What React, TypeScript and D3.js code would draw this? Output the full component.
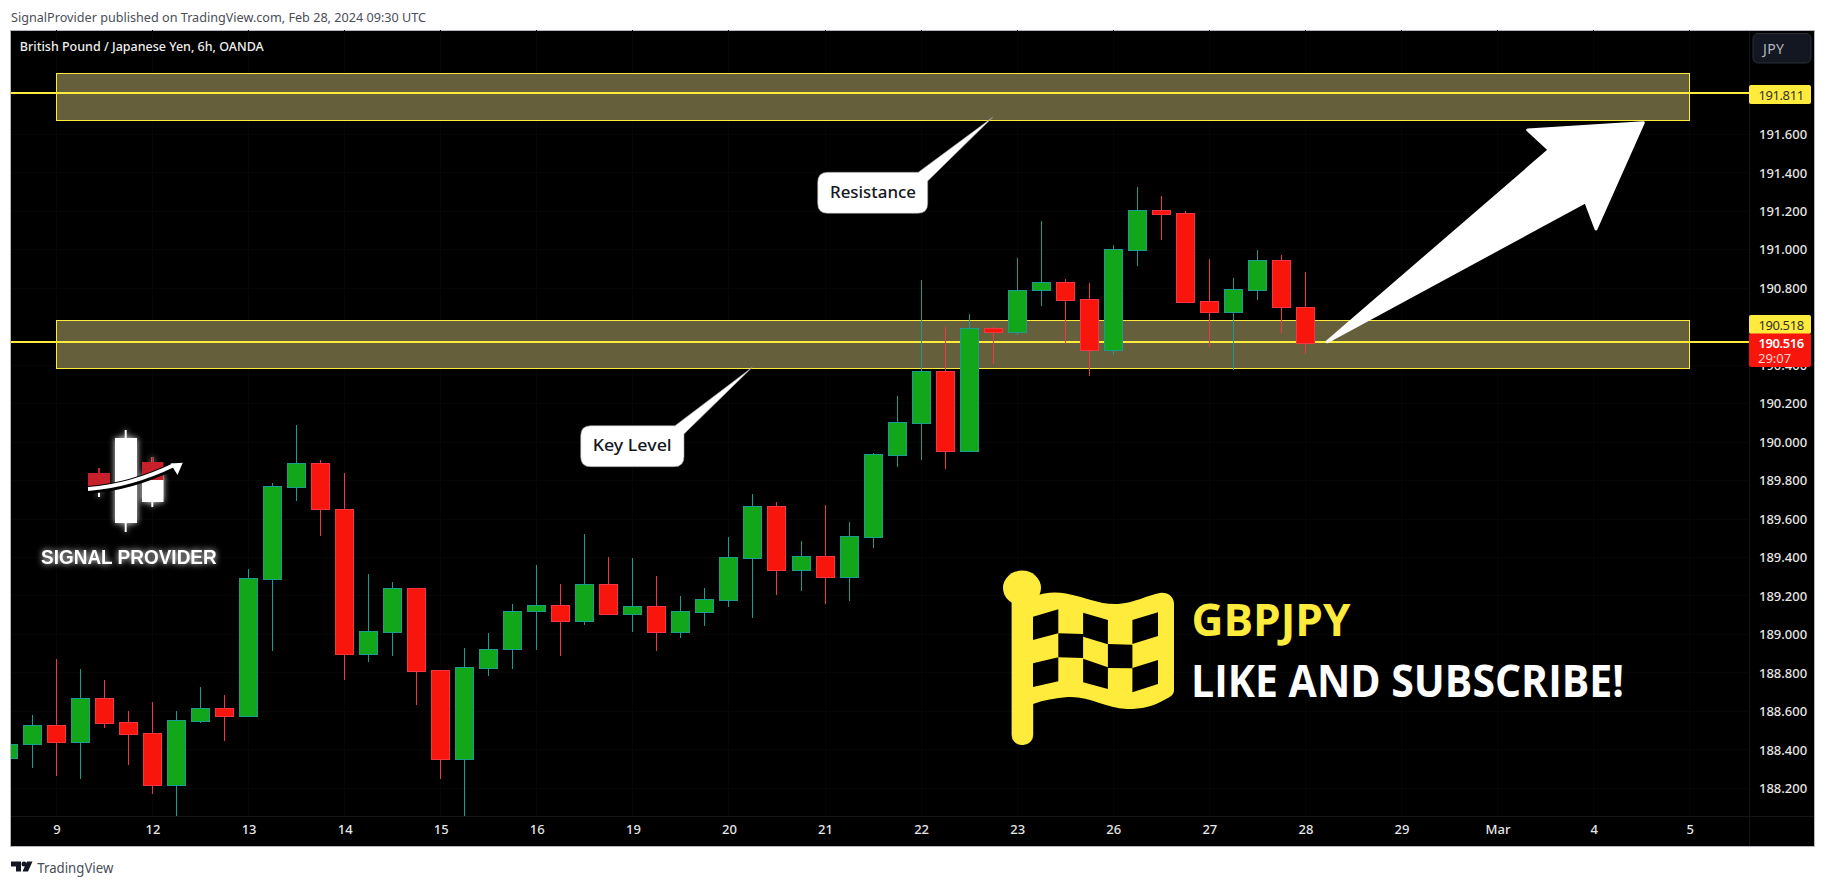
import * as React from "react";
import * as d3 from "d3";

const FONT = "'Noto Sans', 'Open Sans', sans-serif";

// OHLC of the 6h bars
const opens = [188.359, 188.429, 188.527, 188.443, 188.668, 188.543, 188.486, 188.219, 188.552, 188.616, 188.578, 189.29, 189.769, 189.89, 189.651, 188.9, 189.015, 189.24, 188.814, 188.354, 188.827, 188.923, 189.12, 189.152, 189.072, 189.261, 189.108, 189.146, 189.015, 189.119, 189.181, 189.399, 189.666, 189.337, 189.406, 189.301, 189.509, 189.935, 190.102, 190.368, 189.956, 190.592, 190.575, 190.79, 190.831, 190.743, 190.481, 191.001, 191.206, 191.19, 190.732, 190.674, 190.793, 190.946, 190.701];
const highs = [188.45, 188.581, 188.872, 188.82, 188.763, 188.602, 188.649, 188.602, 188.727, 188.685, 189.34, 189.786, 190.089, 189.907, 189.84, 189.315, 189.273, 189.24, 188.814, 188.93, 189.008, 189.159, 189.361, 189.262, 189.522, 189.403, 189.398, 189.304, 189.2, 189.242, 189.507, 189.731, 189.689, 189.486, 189.673, 189.585, 189.944, 190.24, 190.843, 190.599, 190.667, 190.599, 190.958, 191.15, 190.849, 190.828, 191.025, 191.327, 191.28, 191.2, 190.953, 190.854, 190.999, 190.973, 190.885];
const lows = [188.34, 188.306, 188.264, 188.248, 188.514, 188.321, 188.17, 188.056, 188.541, 188.446, 188.573, 188.914, 189.694, 189.512, 188.763, 188.857, 188.888, 188.633, 188.248, 188.056, 188.784, 188.82, 188.919, 188.888, 189.049, 189.108, 189.013, 188.914, 188.982, 189.044, 189.143, 189.086, 189.205, 189.226, 189.159, 189.174, 189.45, 189.871, 189.907, 189.86, 189.95, 190.407, 190.557, 190.708, 190.512, 190.344, 190.453, 190.916, 191.051, 190.724, 190.495, 190.375, 190.739, 190.568, 190.459];
const closes = [188.429, 188.527, 188.443, 188.668, 188.541, 188.484, 188.219, 188.554, 188.616, 188.578, 189.292, 189.77, 189.89, 189.651, 188.9, 189.016, 189.24, 188.812, 188.354, 188.829, 188.923, 189.12, 189.152, 189.072, 189.261, 189.108, 189.146, 189.015, 189.12, 189.183, 189.401, 189.666, 189.337, 189.406, 189.301, 189.51, 189.937, 190.103, 190.368, 189.956, 190.592, 190.575, 190.79, 190.831, 190.741, 190.481, 191.003, 191.206, 191.188, 190.731, 190.674, 190.795, 190.946, 190.7, 190.516];

// 190.600 sits fully under the price badges in the reference, so no label for it
const priceTicks = [188.2, 188.4, 188.6, 188.8, 189, 189.2, 189.4, 189.6, 189.8, 190, 190.2, 190.4, 190.8, 191, 191.2, 191.4, 191.6];
const dayBars = [2, 6, 10, 14, 18, 22, 26, 30, 34, 38, 42, 46, 50, 54, 58, 62, 66, 70];
const dayLabels = ["9", "12", "13", "14", "15", "16", "19", "20", "21", "22", "23", "26", "27", "28", "29", "Mar", "4", "5"];

const zones = [
  { top: 191.918, bottom: 191.674, level: 191.811 },
  { top: 190.634, bottom: 190.382, level: 190.518 },
];
const zoneFrom = 2;
const zoneTo = 70;
const lastPrice = 190.516;

const YELLOW = "#ffeb3b";
const UP_FILL = "#12a71b";
const UP_LINE = "#1a9c8e";
const DOWN_FILL = "#f7150c";
const DOWN_LINE = "#f23645";

const x = d3.scaleLinear().domain([0, 54]).range([8.4, 1305.4]);
const y = d3.scaleLinear().domain([191.6, 188.2]).range([134.4, 788.3]);

const cell = (x0: number, x1: number, t0: number, t1: number, b0: number, b1: number) =>
  `${x0},${t0} ${x1},${t1} ${x1},${b1} ${x0},${b0}`;

const flagCells = [
  cell(1033, 1058.3, 616.7, 609.3, 640, 633.3),
  cell(1083.1, 1107.9, 612.7, 620, 636.7, 644.3),
  cell(1132.4, 1158, 620, 612.3, 644, 636),
  cell(1058.3, 1083.1, 633.3, 634, 657.3, 658),
  cell(1107.9, 1132.4, 644, 644.7, 668, 668.3),
  cell(1033, 1058.3, 663.3, 657.3, 687, 681.3),
  cell(1083.1, 1107.9, 658.7, 667.3, 682.3, 689),
  cell(1132.4, 1158, 668, 660, 692.3, 684),
];

function Candle({ i }: { i: number }) {
  const up = closes[i] >= opens[i];
  const cx = Math.floor(x(i)) + 0.5;
  const top = Math.round(y(Math.max(opens[i], closes[i])));
  const bottom = Math.round(y(Math.min(opens[i], closes[i])));
  return (
    <g shapeRendering="crispEdges">
      <line x1={cx} x2={cx} y1={y(highs[i])} y2={y(lows[i])} stroke={up ? UP_LINE : DOWN_LINE} />
      <rect
        x={cx - 9}
        y={top + 0.5}
        width={18}
        height={Math.max(bottom - top, 2)}
        fill={up ? UP_FILL : DOWN_FILL}
        stroke={up ? UP_LINE : DOWN_LINE}
      />
    </g>
  );
}

function Callout(props: { d: string; label: string; tx: number; ty: number; len: number }) {
  return (
    <g>
      <path d={props.d} fill="#fff" stroke="#9a9a9a" strokeWidth={0.6} />
      <text
        x={props.tx}
        y={props.ty}
        fontFamily={FONT}
        fontSize={16}
        fontWeight={500}
        fill="#131722"
        dominantBaseline="central"
        textLength={props.len}
        lengthAdjust="spacingAndGlyphs"
      >
        {props.label}
      </text>
    </g>
  );
}

function Logo() {
  const glow = { filter: "drop-shadow(0 0 3px rgba(255,255,255,0.9))" };
  return (
    <g>
      <g style={glow}>
        <rect x={115} y={438} width={22} height={85} fill="#fff" />
        <line x1={125.7} x2={125.7} y1={430} y2={532} stroke="#fff" strokeWidth={2} />
        <rect x={142} y={474} width={21.5} height={28} fill="#fff" />
        <line x1={152.3} x2={152.3} y1={457} y2={507} stroke="#fff" strokeWidth={2} />
        <line x1={99} x2={99} y1={484} y2={497} stroke="#fff" strokeWidth={2} />
      </g>
      <line x1={99} x2={99} y1={468} y2={474} stroke="#c8202a" strokeWidth={2} />
      <line x1={152.3} x2={152.3} y1={457} y2={463} stroke="#c8202a" strokeWidth={2} />
      <rect x={142} y={462} width={21.5} height={18} fill="#c8202a" />
      <rect x={88} y={473} width={22} height={13} fill="#c8202a" />
      <path d="M88 490 C115 488 145 480 174 466" fill="none" stroke="#000" strokeWidth={8} />
      <path d="M88 489 C115 487 145 479 174 465" fill="none" stroke="#fff" strokeWidth={4} />
      <polygon points="182.7,462.7 170.5,463.5 177.5,475" fill="#fff" />
      <text
        x={41}
        y={557}
        fontFamily="'Liberation Sans', Arial, sans-serif"
        fontWeight={700}
        fontSize={19.5}
        fill="#fff"
        dominantBaseline="central"
        textLength={175.7}
        lengthAdjust="spacingAndGlyphs"
        style={glow}
      >
        SIGNAL PROVIDER
      </text>
    </g>
  );
}

function Flag() {
  return (
    <g fill={YELLOW}>
      <rect x={1011.6} y={590} width={21.6} height={155} rx={10} />
      <ellipse cx={1022} cy={588} rx={19} ry={17.5} />
      <path d="M1033 596.7 C1045 592 1056 592 1066 593.5 C1085 597 1100 605 1118 604 C1134 603 1148 595 1160 593 C1168 592 1174 597 1174 604 L1174 690 C1174 695 1170 697 1166 699 C1152 707 1142 709 1127 709 C1105 708 1090 696 1068 697 C1055 698 1044 700 1033 704 Z" />
      {flagCells.map(p => (
        <polygon key={p} points={p} fill="#000" />
      ))}
    </g>
  );
}

export default function App() {
  const plotRight = 1749;
  const axisY = 816;
  const bars = d3.range(opens.length);
  return (
    <div style={{ position: "absolute", left: 0, top: 0 }}>
      <svg width={1826} height={886} style={{ display: "block", background: "#fff" }} fontFamily={FONT}>
        <defs>
          <clipPath id="plot">
            <rect x={11} y={30} width={plotRight - 11} height={axisY - 30} />
          </clipPath>
        </defs>

        <text x={11} y={17} fontSize={13} fill="#4a4e58" dominantBaseline="central" textLength={415} lengthAdjust="spacingAndGlyphs">
          SignalProvider published on TradingView.com, Feb 28, 2024 09:30 UTC
        </text>

        <rect x={10.5} y={30.5} width={1804} height={816} fill="#000" stroke="#b2b5be" />

        <g stroke="#060606" shapeRendering="crispEdges">
          {priceTicks.map(p => (
            <line key={p} x1={11} x2={plotRight} y1={y(p)} y2={y(p)} />
          ))}
          {dayBars.map(b => (
            <line key={b} x1={x(b)} x2={x(b)} y1={30} y2={axisY} />
          ))}
        </g>
        <line x1={plotRight} x2={plotRight} y1={31} y2={846} stroke="#141414" shapeRendering="crispEdges" />
        <line x1={11} x2={1814} y1={axisY} y2={axisY} stroke="#141414" shapeRendering="crispEdges" />

        <text x={19.8} y={46} fontSize={13} fontWeight={500} fill="#eeeeee" dominantBaseline="central" textLength={244} lengthAdjust="spacingAndGlyphs">
          British Pound / Japanese Yen, 6h, OANDA
        </text>

        {zones.map(z => (
          <g key={z.level}>
            <rect
              x={x(zoneFrom)}
              y={y(z.top)}
              width={x(zoneTo) - x(zoneFrom)}
              height={y(z.bottom) - y(z.top)}
              fill="#655f3b"
              stroke={YELLOW}
              shapeRendering="crispEdges"
            />
            <line
              x1={11}
              x2={plotRight}
              y1={Math.round(y(z.level) - 0.4)}
              y2={Math.round(y(z.level) - 0.4)}
              stroke={YELLOW}
              strokeWidth={2}
              shapeRendering="crispEdges"
            />
          </g>
        ))}

        <g clipPath="url(#plot)">
          {bars.map(i => (
            <Candle key={i} i={i} />
          ))}
        </g>

        <polygon
          points="1327.3,341.7 1549.3,150 1527.7,130 1643.3,122.7 1596,229 1585.7,201.7"
          fill="#fff"
          stroke="#fff"
          strokeWidth={3}
          strokeLinejoin="round"
        />

        <Callout
          d="M827.7 172.3 L918.3 172.3 L992.7 117.3 L927.7 181 L927.7 203.3 Q927.7 213.3 917.7 213.3 L827.7 213.3 Q817.7 213.3 817.7 203.3 L817.7 182.3 Q817.7 172.3 827.7 172.3 Z"
          label="Resistance"
          tx={830}
          ty={192}
          len={86}
        />
        <Callout
          d="M590.7 425.7 L675 425.7 L752.3 367.3 L684 434 L684 456.7 Q684 466.7 674 466.7 L590.7 466.7 Q580.7 466.7 580.7 456.7 L580.7 435.7 Q580.7 425.7 590.7 425.7 Z"
          label="Key Level"
          tx={592.7}
          ty={445}
          len={79}
        />

        <Logo />
        <Flag />

        <text x={1191.5} y={618.5} fontFamily="'Open Sans', sans-serif" fontWeight={700} fontSize={44} fill={YELLOW} dominantBaseline="central" textLength={159} lengthAdjust="spacingAndGlyphs">
          GBPJPY
        </text>
        <text x={1191} y={680} fontFamily="'Open Sans', sans-serif" fontWeight={700} fontSize={44} fill="#fff" dominantBaseline="central" textLength={433} lengthAdjust="spacingAndGlyphs">
          LIKE AND SUBSCRIBE!
        </text>

        <g
          transform={`translate(${plotRight},0)`}
          ref={node => {
            if (!node) return;
            const g = d3.select(node);
            g.call(d3.axisRight(y).tickValues(priceTicks).tickSize(0).tickPadding(10).tickFormat(d3.format(".3f")) as any);
            g.select(".domain").remove();
            g.attr("font-family", FONT).attr("font-size", 13).attr("font-weight", 500);
            g.selectAll("text").attr("fill", "#e6e6e6");
          }}
        />
        <g
          transform={`translate(0,${axisY})`}
          ref={node => {
            if (!node) return;
            const g = d3.select(node);
            g.call(
              d3
                .axisBottom(x)
                .tickValues(dayBars)
                .tickSize(0)
                .tickPadding(9)
                .tickFormat((_, i) => dayLabels[i]) as any
            );
            g.select(".domain").remove();
            g.attr("font-family", FONT).attr("font-size", 13).attr("font-weight", 500);
            g.selectAll("text").attr("fill", "#e6e6e6");
          }}
        />

        <rect x={1753} y={33.5} width={58} height={29.5} rx={5} fill="#131722" stroke="#2a2e39" />
        <text x={1763} y={48.5} fontSize={14} fill="#b2b5be" dominantBaseline="central" textLength={21}>
          JPY
        </text>

        <rect x={1749} y={85} width={62} height={19} rx={2} fill={YELLOW} />
        <text x={1758.5} y={94.5} fontSize={13} fill="#333" dominantBaseline="central" textLength={45.6}>
          {d3.format(".3f")(zones[0].level)}
        </text>
        <rect x={1749} y={315} width={62} height={19} rx={2} fill={YELLOW} />
        <text x={1758.5} y={325} fontSize={13} fill="#333" dominantBaseline="central" textLength={45.6}>
          {d3.format(".3f")(zones[1].level)}
        </text>
        <rect x={1749} y={333.5} width={62} height={33.5} rx={2} fill={DOWN_FILL} />
        <text x={1758.5} y={343} fontSize={13} fontWeight={600} fill="#fff" dominantBaseline="central" textLength={45.6}>
          {d3.format(".3f")(lastPrice)}
        </text>
        <text x={1758} y={358} fontSize={13} fill="#ffd5d2" dominantBaseline="central">
          29:07
        </text>

        <g fill="#131722">
          <polygon points="11,861.5 21,861.5 21,871.5 16,871.5 16,866.5 11,866.5" />
          <circle cx={24} cy={864} r={2.5} />
          <polygon points="27,861.5 32.5,861.5 28,871.5 22.5,871.5" />
        </g>
        <text x={37.3} y={867} fontSize={14.5} fill="#4a4e58" dominantBaseline="central" textLength={76} lengthAdjust="spacingAndGlyphs">
          TradingView
        </text>
      </svg>
    </div>
  );
}
